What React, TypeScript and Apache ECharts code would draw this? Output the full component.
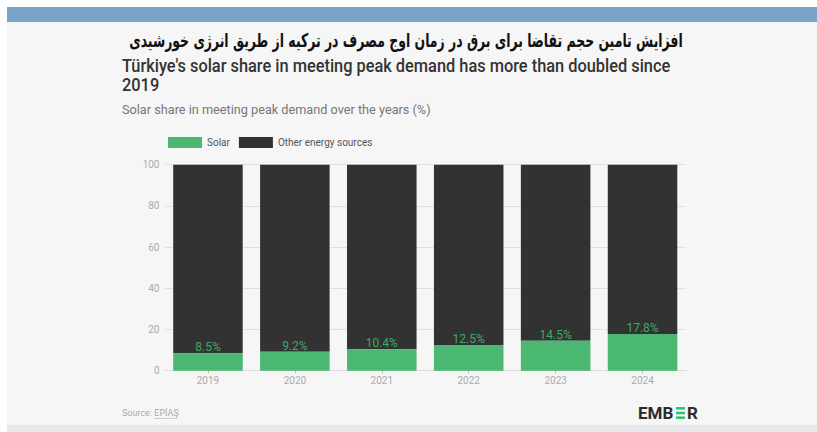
import React, { useEffect, useRef } from "react";
import * as echarts from "echarts";

const years = ["2019", "2020", "2021", "2022", "2023", "2024"];
const solarShare = [8.5, 9.2, 10.4, 12.5, 14.5, 17.8];
const otherShare = [91.5, 90.8, 89.6, 87.5, 85.5, 82.2];
const yTicks = { min: 0, max: 100, interval: 20 };

const titleFa = "افزایش تامین حجم تقاضا برای برق در زمان اوج مصرف در ترکیه از طریق انرژی خورشیدی";
const subtitle1 = "Türkiye's solar share in meeting peak demand has more than doubled since";
const subtitle2 = "2019";
const axisTitle = "Solar share in meeting peak demand over the years (%)";

export default function App() {
  const ref = useRef<HTMLDivElement>(null);
  useEffect(() => {
    if (!ref.current) return;
    const chart = echarts.init(ref.current, null, { renderer: "svg" });
    chart.setOption({
      animation: false,
      textStyle: { fontFamily: "Roboto, 'Noto Sans', sans-serif" },
      grid: { left: 164.5, right: 131, top: 164.7, bottom: 61.3 },
      legend: {
        left: 163,
        top: 132,
        itemWidth: 34,
        itemHeight: 11,
        itemGap: 9,
        icon: "rect",
        textStyle: { color: "#555", fontSize: 10 },
        data: ["Solar", "Other energy sources"],
      },
      xAxis: {
        type: "category",
        data: years,
        axisLine: { lineStyle: { color: "#dcdcdc" } },
        axisTick: { show: true, alignWithLabel: true, length: 3, lineStyle: { color: "#bbb" } },
        axisLabel: { color: "#aaa", fontSize: 10, margin: 5 },
      },
      yAxis: {
        type: "value",
        min: yTicks.min,
        max: yTicks.max,
        interval: yTicks.interval,
        axisLine: { show: false },
        axisTick: { show: false },
        axisLabel: { color: "#aaa", fontSize: 10, margin: 5 },
        splitLine: { lineStyle: { color: "#e0e0e0" } },
      },
      series: [
        {
          name: "Solar",
          type: "bar",
          stack: "s",
          z: 3,
          barCategoryGap: "20%",
          itemStyle: { color: "#4ab870" },
          label: {
            show: true,
            position: "top",
            distance: 0,
            color: "#3fa866",
            fontSize: 12,
            formatter: (p: any) => p.value + "%",
          },
          data: solarShare,
        },
        {
          name: "Other energy sources",
          type: "bar",
          stack: "s",
          z: 2,
          barCategoryGap: "20%",
          itemStyle: { color: "#323232" },
          data: otherShare,
        },
      ],
      graphic: [
        {
          type: "text",
          x: 406,
          y: 40,
          scaleX: 0.655,
          style: {
            text: titleFa,
            fontFamily: "'DejaVu Sans', sans-serif",
            fontWeight: "bold",
            fontSize: 19,
            fill: "#111",
            textAlign: "center",
            textVerticalAlign: "middle",
          },
        },
        {
          type: "text",
          x: 122,
          y: 66,
          scaleX: 0.91,
          style: {
            text: subtitle1,
            fontFamily: "Roboto, sans-serif",
            fontWeight: 500,
            fontSize: 18,
            fill: "#333",
            textAlign: "left",
            textVerticalAlign: "middle",
          },
        },
        {
          type: "text",
          x: 122,
          y: 85,
          scaleX: 0.91,
          style: {
            text: subtitle2,
            fontFamily: "Roboto, sans-serif",
            fontWeight: 500,
            fontSize: 18,
            fill: "#333",
            textAlign: "left",
            textVerticalAlign: "middle",
          },
        },
        {
          type: "text",
          x: 122,
          y: 109,
          style: {
            text: axisTitle,
            fontFamily: "Roboto, sans-serif",
            fontSize: 12.7,
            fill: "#777",
            textAlign: "left",
            textVerticalAlign: "middle",
          },
        },
        {
          type: "text",
          x: 122,
          y: 413,
          style: {
            text: "Source: EPİAŞ",
            fontFamily: "Roboto, sans-serif",
            fontSize: 9,
            fill: "#aaa",
            textAlign: "left",
            textVerticalAlign: "middle",
          },
        },
        {
          type: "line",
          shape: { x1: 154, y1: 418.5, x2: 177, y2: 418.5 },
          style: { stroke: "#bbb", lineWidth: 0.7 },
        },
        {
          type: "text",
          x: 638,
          y: 413,
          style: {
            text: "EMB",
            fontFamily: "Roboto, sans-serif",
            fontWeight: "bold",
            fontSize: 17,
            fill: "#2b2b2b",
            textAlign: "left",
            textVerticalAlign: "middle",
          },
        },
        { type: "rect", shape: { x: 676, y: 407, width: 9, height: 2.6 }, style: { fill: "#33c27a" } },
        { type: "rect", shape: { x: 676, y: 411.7, width: 9, height: 2.6 }, style: { fill: "#33c27a" } },
        { type: "rect", shape: { x: 676, y: 416.4, width: 9, height: 2.6 }, style: { fill: "#33c27a" } },
        {
          type: "text",
          x: 687,
          y: 413,
          style: {
            text: "R",
            fontFamily: "Roboto, sans-serif",
            fontWeight: "bold",
            fontSize: 17,
            fill: "#2b2b2b",
            textAlign: "left",
            textVerticalAlign: "middle",
          },
        },
      ],
    });
    return () => chart.dispose();
  }, []);

  return (
    <div style={{ position: "absolute", left: 0, top: 0, width: 817, height: 432, background: "#fff", overflow: "hidden" }}>
      <div style={{ position: "absolute", left: 7, top: 7, width: 810, height: 15, background: "#7aa5c9" }} />
      <div style={{ position: "absolute", left: 7, top: 22, width: 810, height: 403, background: "#f6f6f6" }} />
      <div style={{ position: "absolute", left: 7, top: 425, width: 810, height: 7, background: "#e7e8e9" }} />
      <div ref={ref} style={{ position: "absolute", left: 0, top: 0, width: 817, height: 432 }} />
    </div>
  );
}
